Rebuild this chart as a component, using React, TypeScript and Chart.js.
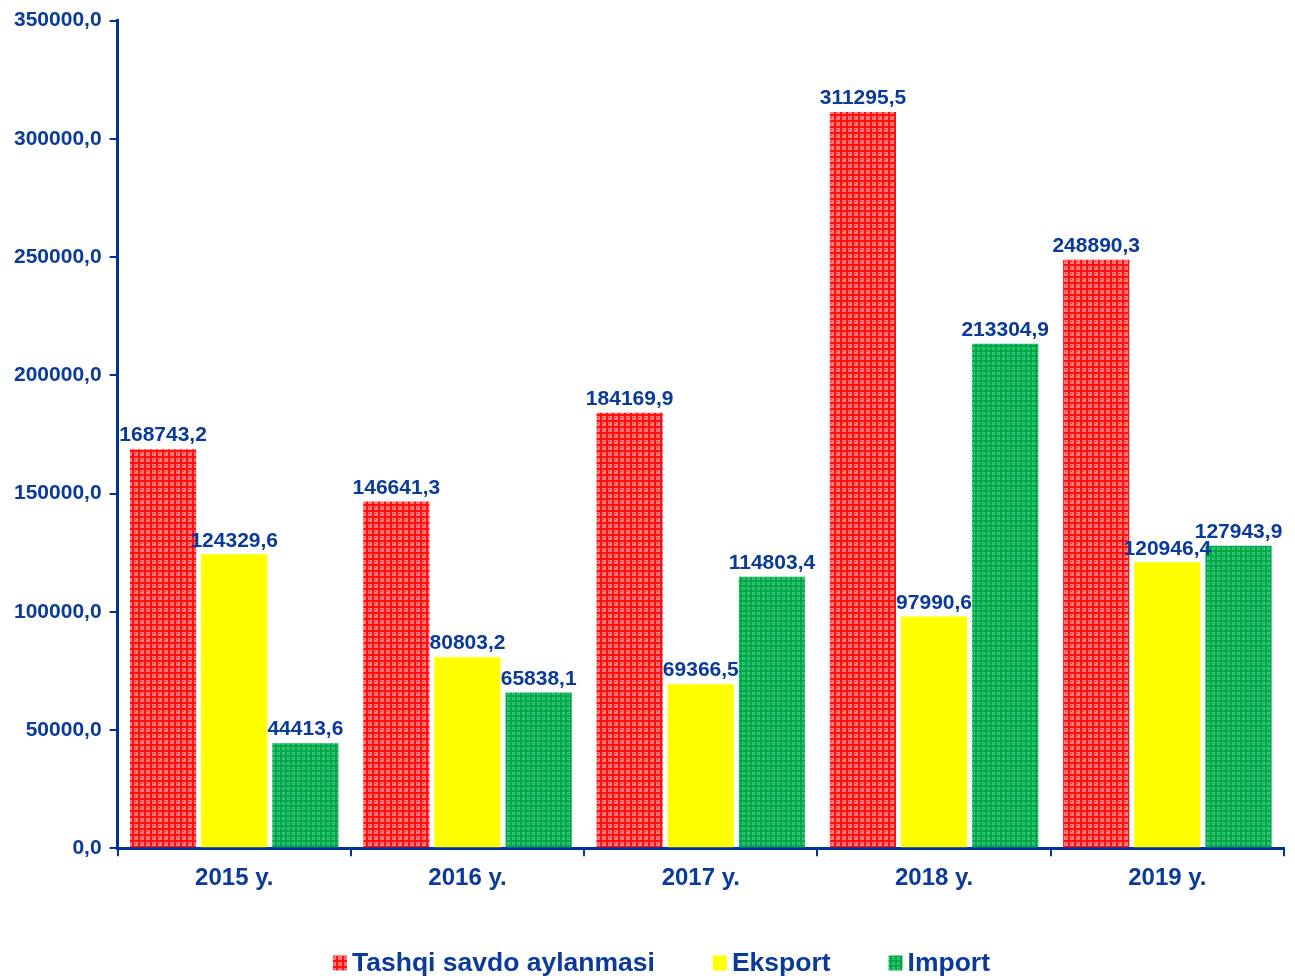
import React, { useEffect, useRef } from "react";
import { Chart, registerables } from "chart.js";

Chart.register(...registerables);

const categories = ["2015 y.", "2016 y.", "2017 y.", "2018 y.", "2019 y."];
const seriesNames = ["Tashqi savdo aylanmasi", "Eksport", "Import"];
const turnover = [168743.2, 146641.3, 184169.9, 311295.5, 248890.3];
const exportVals = [124329.6, 80803.2, 69366.5, 97990.6, 120946.4];
const importVals = [44413.6, 65838.1, 114803.4, 213304.9, 127943.9];

const TEXT = "#0A3A9A";
const AXIS = "#003399";
const FONT = "'Liberation Sans', Arial, sans-serif";

function makePattern(base: string, light: string, period: number): CanvasPattern | string {
  const c = document.createElement("canvas");
  c.width = period;
  c.height = period;
  const ctx = c.getContext("2d");
  if (!ctx) return base;
  ctx.fillStyle = light;
  ctx.fillRect(0, 0, period, period);
  ctx.fillStyle = base;
  ctx.fillRect(0, 0, period, 2);
  ctx.fillRect(0, 0, 2, period);
  ctx.fillRect(3, 3, 1, 1);
  const p = ctx.createPattern(c, "repeat");
  return p || base;
}

const fmt = (v: number) => v.toFixed(1).replace(".", ",");

const labelPlugin = {
  id: "barLabels",
  afterDatasetsDraw(chart: any) {
    const ctx = chart.ctx;
    ctx.save();
    ctx.font = `bold 21px ${FONT}`;
    ctx.fillStyle = TEXT;
    ctx.textAlign = "center";
    ctx.textBaseline = "bottom";
    chart.data.datasets.forEach((ds: any, i: number) => {
      const meta = chart.getDatasetMeta(i);
      meta.data.forEach((bar: any, j: number) => {
        ctx.fillText(fmt(ds.data[j]), bar.x, bar.y - 3);
      });
    });
    ctx.restore();
  },
};

const legendPlugin = {
  id: "customLegend",
  afterDraw(chart: any) {
    const ctx = chart.ctx;
    ctx.save();
    ctx.font = `bold 26.5px ${FONT}`;
    ctx.textBaseline = "middle";
    ctx.textAlign = "left";
    const boxW = 14;
    const boxH = 15;
    const gapBox = 5;
    const gapItem = 58;
    const ds = chart.data.datasets;
    const widths = ds.map((d: any) => boxW + gapBox + ctx.measureText(d.label).width);
    const total = widths.reduce((a: number, b: number) => a + b, 0) + gapItem * (ds.length - 1);
    let x = chart.width / 2 + 14 - total / 2;
    const y = chart.height - 16;
    ds.forEach((d: any, i: number) => {
      ctx.fillStyle = d.backgroundColor;
      ctx.fillRect(x, y - boxH / 2, boxW, boxH);
      ctx.fillStyle = TEXT;
      ctx.fillText(d.label, x + boxW + gapBox, y + 1);
      x += widths[i] + gapItem;
    });
    ctx.restore();
  },
};

export default function App() {
  const ref = useRef<HTMLCanvasElement>(null);
  useEffect(() => {
    if (!ref.current) return;
    const red = makePattern("#ff1010", "#ff7a7a", 6);
    const green = makePattern("#00a84a", "#3cc678", 5);
    const chart = new Chart(ref.current, {
      type: "bar",
      data: {
        labels: categories,
        datasets: [
          { label: seriesNames[0], data: turnover, backgroundColor: red as any },
          { label: seriesNames[1], data: exportVals, backgroundColor: "#ffff00" },
          { label: seriesNames[2], data: importVals, backgroundColor: green as any },
        ],
      },
      options: {
        animation: false,
        responsive: false,
        maintainAspectRatio: false,
        layout: { padding: { top: 19, right: 11, left: 6, bottom: 78 } },
        datasets: { bar: { barPercentage: 0.93, categoryPercentage: 0.915 } },
        plugins: {
          tooltip: { enabled: false },
          legend: { display: false },
        },
        scales: {
          x: {
            grid: { display: true, drawOnChartArea: false, drawTicks: true, tickLength: 8, color: AXIS, lineWidth: 2, offset: true },
            border: { display: true, color: AXIS, width: 3 },
            ticks: {
              color: TEXT,
              font: { family: FONT, size: 24, weight: "bold" },
              padding: 8,
            },
          },
          y: {
            min: 0,
            max: 350000,
            grid: { display: true, drawOnChartArea: false, drawTicks: true, tickLength: 8, color: AXIS, lineWidth: 2 },
            border: { display: true, color: AXIS, width: 3 },
            ticks: {
              stepSize: 50000,
              color: TEXT,
              font: { family: FONT, size: 21, weight: "bold" },
              padding: 8,
              callback: (v: any) => fmt(Number(v)),
            },
          },
        },
      },
      plugins: [labelPlugin, legendPlugin],
    });
    return () => chart.destroy();
  }, []);
  return (
    <div style={{ position: "fixed", left: 0, top: 0, width: 1295, height: 979, background: "#fff" }}>
      <canvas ref={ref} width={1295} height={979} style={{ display: "block" }} />
    </div>
  );
}
